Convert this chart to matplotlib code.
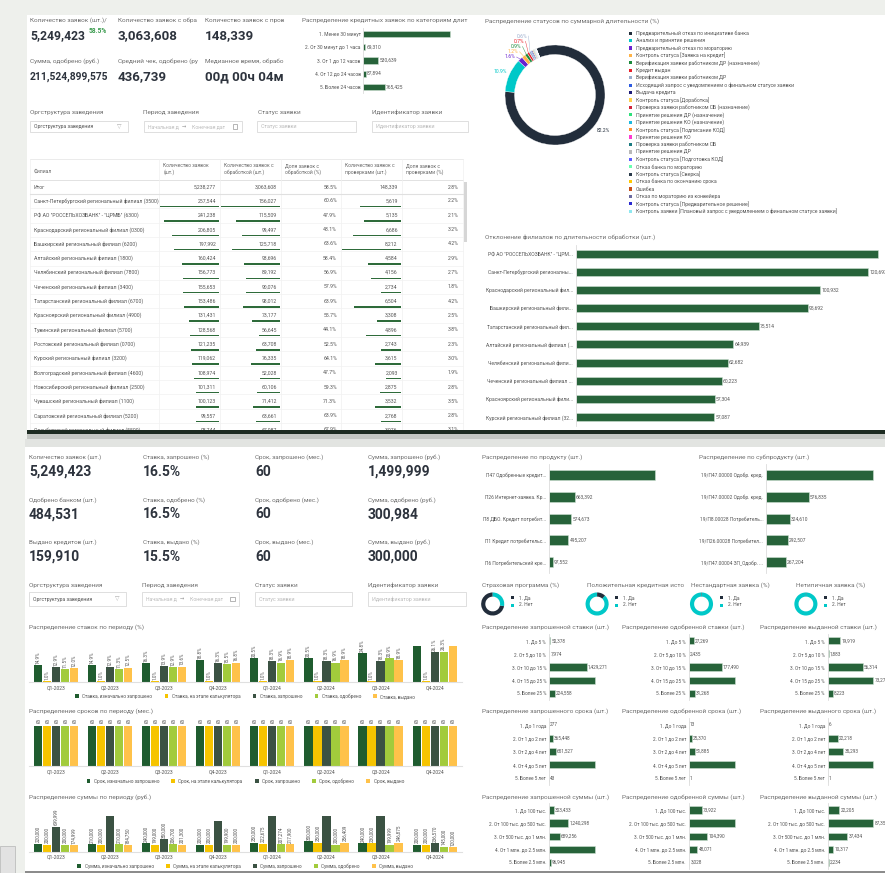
import numpy as np
import matplotlib
matplotlib.use("Agg")
from matplotlib import pyplot as plt
from matplotlib.patches import Rectangle

plt.rcParams['font.family'] = ['Roboto', 'DejaVu Sans']

# ---------------- data ----------------
top_kpi_labels = ["Количество заявок (шт.)/", "Количество заявок с обра", "Количество заявок с пров",
                  "Сумма, одобрено (руб.)", "Средний чек, одобрено (ру", "Медианное время, обрабо"]
top_kpi_values = ["5,249,423", "3,063,608", "148,339", "211,524,899,575", "436,739", "00д 00ч 04м"]
top_kpi_share = "58.5%"

dur_cats = ["1. Менее 30 минут", "2. От 30 минут до 1 часа", "3. От 1 до 12 часов",
            "4. От 12 до 24 часов", "5. Более 24 часов"]
dur_vals = [3101214, 69310, 530639, 87894, 765425]

status_names = ["Предварительный отказ по инициативе банка", "Анализ и принятие решения",
                "Предварительный отказ по мораторию", "Контроль статуса [Заявка на кредит]",
                "Верификация заявки работником ДР (назначение)", "Кредит выдан",
                "Верификация заявки работником ДР",
                "Исходящий запрос с уведомлением о финальном статусе заявки", "Выдача кредита",
                "Контроль статуса [Доработка]", "Проверка заявки работником СБ (назначение)",
                "Принятие решения ДР (назначение)", "Принятие решения КО (назначение)",
                "Контроль статуса [Подписание КОД]", "Принятие решения КО",
                "Проверка заявки работником СБ", "Принятие решения ДР",
                "Контроль статуса [Подготовка КОД]", "Отказ банка по мораторию",
                "Контроль статуса [Сверка]", "Отказ банка по окончанию срока", "Ошибка",
                "Отказ по мораторию из конвейера", "Контроль статуса [Предварительное решение]",
                "Контроль заявки [Плановый запрос с уведомлением о финальном статусе заявки]"]
status_vals = [82.2, 10.9, 1.6, 1.2, 0.9, 0.7, 0.6, 0.3, 0.3, 0.15, 0.2, 0.2, 0.15, 0.1, 0.1,
               0.08, 0.07, 0.06, 0.05, 0.04, 0.03, 0.03, 0.02, 0.02, 0.02]
status_colors = ['#222d3b', '#00c8c8', '#6a22cf', '#ffb347', '#1b8a3c', '#e8202a', '#9aaccc',
                 '#2d5be0', '#1c1c78', '#ffd24a', '#d0243c', '#2ee07a', '#1ab8e0', '#ff8c2a',
                 '#ff3ad0', '#1a7a80', '#b8b8b8', '#5a5aff', '#6affb0', '#2a3a4a', '#ffc800',
                 '#c8501a', '#6a6aa0', '#2a2ad0', '#8ee8f0']

filter_labels = ["Оргструктура заведения", "Период заведения", "Статус заявки", "Идентификатор заявки"]

tbl_header = ["Филиал", "Количество заявок\n(шт.)", "Количество заявок с\nобработкой (шт.)",
              "Доля заявок с\nобработкой (%)", "Количество заявок с\nпроверками (шт.)",
              "Доля заявок с\nпроверками (%)"]
tbl_total = ["Итог", "5,238,277", "3,063,608", "58.5%", "148,339", "2.8%"]
branches = ["Санкт-Петербургский региональный филиал (3500)", 'РФ АО "РОССЕЛЬХОЗБАНК" - "ЦРМБ" (6300)',
            "Краснодарский региональный филиал (0300)", "Башкирский региональный филиал (6200)",
            "Алтайский региональный филиал (1800)", "Челябинский региональный филиал (7800)",
            "Чеченский региональный филиал (3400)", "Татарстанский региональный филиал (6700)",
            "Красноярский региональный филиал (4900)", "Тувинский региональный филиал (5700)",
            "Ростовский региональный филиал (0700)", "Курский региональный филиал (3200)",
            "Волгоградский региональный филиал (4600)", "Новосибирский региональный филиал (2500)",
            "Чувашский региональный филиал (1100)", "Саратовский региональный филиал (5200)",
            "Оренбургский региональный филиал (5500)"]
br_total = [257544, 241238, 206805, 197992, 160424, 156773, 155653, 153486, 131431, 128568,
            121235, 119062, 108974, 101311, 100123, 99557, 98744]
br_proc = [156027, 115509, 99497, 125718, 93696, 89192, 90076, 98012, 73177, 56645,
           63708, 76335, 52028, 60106, 71412, 63661, 67087]
br_proc_pct = [60.6, 47.9, 48.1, 63.6, 58.4, 56.9, 57.9, 63.9, 55.7, 44.1, 52.5, 64.1, 47.7,
               59.3, 71.3, 63.9, 67.9]
br_check = [5619, 5135, 6686, 8212, 4584, 4156, 2734, 6504, 3308, 4896, 2743, 3615, 2093,
            2875, 3532, 2768, 3076]
br_check_pct = [2.2, 2.1, 3.2, 4.2, 2.9, 2.7, 1.8, 4.2, 2.5, 3.8, 2.3, 3.0, 1.9, 2.8, 3.5, 2.8, 3.1]

dev_names = ['РФ АО "РОССЕЛЬХОЗБАНК" - "ЦРМ...', "Санкт-Петербургский регионалны...",
             "Краснодарский региональный фил...", "Башкирский региональный фили...",
             "Татарстанский региональный фил...", "Алтайский региональный филиал (...",
             "Челябинский региональный фили...", "Чеченский региональный филиал ...",
             "Красноярский региональный фили...", "Курский региональный филиал (32..."]
dev_vals = [124612, 120693, 100932, 95692, 75514, 64939, 62682, 60223, 57304, 57087]

low_kpi_labels = [["Количество заявок (шт.)", "Одобрено банком (шт.)", "Выдано кредитов (шт.)"],
                  ["Ставка, запрошено (%)", "Ставка, одобрено (%)", "Ставка, выдано (%)"],
                  ["Срок, запрошено (мес.)", "Срок, одобрено (мес.)", "Срок, выдано (мес.)"],
                  ["Сумма, запрошено (руб.)", "Сумма, одобрено (руб.)", "Сумма, выдано (руб.)"]]
low_kpi_values = [["5,249,423", "484,531", "159,910"],
                  ["16.5%", "16.5%", "15.5%"],
                  ["60", "60", "60"],
                  ["1,499,999", "300,984", "300,000"]]

prod_names = ["П47 Одобренные кредит...", "П26 Интернет-заявка. Кр...", "П8 ДБО. Кредит потребит...",
              "П1 Кредит потребительс...", "П6 Потребительский кре..."]
prod_vals = [2712536, 663392, 574673, 495207, 97552]
sub_names = ["19/П47.00000 Одобр. кред.", "19/П47.00002 Одобр. кред.", "19/П8.00028 Потребитель...",
             "19/П26.00028 Потребител...", "19/П47.00004 ЗП_Одобр. ..."]
sub_vals = [1440120, 576835, 324610, 292507, 267204]

flag_titles = ["Страховая программа (%)", "Положительная кредитная исто",
               "Нестандартная заявка (%)", "Нетипичная заявка (%)"]
flag_yes = [72.0, 12.0, 0.6, 0.4]
flag_legend = ["1. Да", "2. Нет"]

quarters = ["Q1-2023", "Q2-2023", "Q3-2023", "Q4-2023", "Q1-2024", "Q2-2024", "Q3-2024", "Q4-2024"]
rate_init = [14.9, 14.9, 16.3, 18.8, 20.5, 20.5, 24.8, 31.5]
rate_calc = [1.0, 1.0, 1.0, 1.0, 1.0, 1.0, 1.0, 1.0]
rate_req = [12.9, 12.9, 13.9, 16.3, 18.3, 18.3, 18.3, 26.1]
rate_appr = [11.5, 11.3, 12.9, 15.5, 16.9, 16.9, 20.9, 26.3]
rate_iss = [12.0, 12.5, 13.6, 16.8, 18.9, 18.9, 18.9, 31.0]
term_init = [60, 60, 60, 60, 60, 60, 60, 60]
term_calc = [60, 60, 60, 60, 60, 60, 60, 60]
term_req = [60, 60, 60, 60, 60, 60, 60, 60]
term_appr = [60, 60, 60, 60, 60, 60, 60, 60]
term_iss = [60, 60, 60, 60, 60, 60, 60, 60]
sum_init = [220000, 210000, 240000, 200000, 250000, 300000, 240000, 200000]
sum_calc = [200000, 200000, 199000, 200000, 222675, 250000, 230000, 200000]
sum_req = [699999, 1000000, 350000, 870000, 1000000, 1000000, 1000000, 236570]
sum_appr = [200000, 210000, 206700, 199900, 207274, 200000, 199999, 145000]
sum_iss = [174999, 184750, 201300, 200000, 217900, 256409, 246875, 120000]
rate_names = ["Ставка, изначально запрошено", "Ставка, на этапе калькулятора", "Ставка, запрошено",
              "Ставка, одобрено", "Ставка, выдано"]
term_names = ["Срок, изначально запрошено", "Срок, на этапе калькулятора", "Срок, запрошено",
              "Срок, одобрено", "Срок, выдано"]
sum_names = ["Сумма, изначально запрошено", "Сумма, на этапе калькулятора", "Сумма, запрошено",
             "Сумма, одобрено", "Сумма, выдано"]

rate_bins = ["1. До 5 %", "2. От 5 до 10 %", "3. От 10 до 15 %", "4. От 15 до 25 %", "5. Более 25 %"]
term_bins = ["1. До 1 года", "2. От 1 до 2 лет", "3. От 2 до 4 лет", "4. От 4 до 5 лет", "5. Более 5 лет"]
sum_bins = ["1. До 100 тыс.", "2. От 100 тыс. до 500 тыс.", "3. От 500 тыс. до 1 млн.",
            "4. От 1 млн. до 2.5 млн.", "5. Более 2.5 млн."]
rate_req_cnt = [50378, 7974, 1429271, 1743512, 224558]
rate_appr_cnt = [27269, 2435, 177490, 245630, 31268]
rate_iss_cnt = [19919, 1883, 56314, 73271, 8223]
term_req_cnt = [277, 365448, 651527, 4232128, 43]
term_appr_cnt = [13, 25370, 51885, 407262, 1]
term_iss_cnt = [6, 22218, 35293, 102392, 1]
sum_req_cnt = [303433, 1240298, 689256, 2919491, 96945]
sum_appr_cnt = [73922, 255120, 104390, 48071, 3028]
sum_iss_cnt = [22205, 87354, 37434, 10317, 2234]

# ---------------- figure ----------------
W, H = 885, 873
GREEN = '#27633a'
TITLE = '#6e6e6e'
LBL = '#555555'
DARK = '#2d333d'
SER_COLORS = ['#1f5c2f', '#f6c400', '#3b5243', '#a2cb3c', '#ffc24a']

fig = plt.figure(figsize=(W / 100, H / 100), dpi=100)
fig.patch.set_facecolor('#eef0ec')


def fax(x0, y0, x1, y1):
    return fig.add_axes([x0 / W, 1 - y1 / H, (x1 - x0) / W, (y1 - y0) / H])


def pax(x0, y0, x1, y1):
    ax = fax(x0, y0, x1, y1)
    ax.set_xlim(x0, x1)
    ax.set_ylim(y1, y0)
    ax.axis('off')
    return ax


bg = pax(0, 0, W, H)
bg.add_patch(Rectangle((27, 15), W - 27, 415, fc='white', ec='none'))
bg.add_patch(Rectangle((27, 430), W - 27, 4, fc='#1d2b21', ec='none'))
bg.add_patch(Rectangle((27, 434), W - 27, 5, fc='#c4c7c3', ec='none'))
bg.add_patch(Rectangle((25, 439), W - 25, 8, fc='#e2e4e1', ec='none'))
bg.add_patch(Rectangle((25, 447), W - 25, H - 447, fc='white', ec='none'))
bg.add_patch(Rectangle((25, 870.5), W - 25, 2.5, fc='#8c8c8c', ec='none'))
bg.add_patch(Rectangle((0, 846), 15, 27, fc='#e2e2e2', ec='#bdbdbd', lw=0.6))


def txt(x, y, s, size=4.6, color=TITLE, **kw):
    kw.setdefault('va', 'center')
    bg.text(x, y, s, fontsize=size, color=color, **kw)


# top KPIs
for i, (lab, val) in enumerate(zip(top_kpi_labels, top_kpi_values)):
    x = [30, 118, 205][i % 3]
    yl, yv = (20.5, 35.5) if i < 3 else (61.5, 76.5)
    txt(x, yl, lab)
    size = {0: 8.7, 3: 7.4}.get(i, 9.6)
    txt(x, yv, val, size=size, color=DARK, fontweight='bold')
txt(88.5, 31, top_kpi_share, size=4.8, color='#3d9c50', fontweight='bold')


def hbar(x_axis, x_right, y_first, y_last, cats, vals, max_end, fs=3.6, show_max=False, bh=0.46):
    n = len(vals)
    step = (y_last - y_first) / (n - 1)
    ax = fax(x_axis, y_first - step / 2, x_right, y_last + step / 2)
    top = max(vals)
    ax.barh(range(n), vals, height=bh, color=GREEN, edgecolor='#cfe2d3', linewidth=0.4)
    ax.set_xlim(0, top * (x_right - x_axis) / (max_end - x_axis))
    ax.set_ylim(n - 0.5, -0.5)
    ax.set_yticks(range(n), cats, fontsize=fs, color=LBL)
    ax.tick_params(axis='y', length=0, pad=2)
    ax.set_xticks([])
    for s in ('top', 'right', 'bottom'):
        ax.spines[s].set_visible(False)
    ax.spines['left'].set_color('#dcdcdc')
    ax.spines['left'].set_linewidth(0.6)
    ax.patch.set_alpha(0)
    for i, v in enumerate(vals):
        if v == top and not show_max:
            continue
        ax.annotate(f'{v:,}', (v, i), xytext=(0.8, 0), textcoords='offset points',
                    fontsize=fs, color=LBL, va='center', annotation_clip=False)
    return ax


# duration categories
txt(301.7, 20.7, "Распределение кредитных заявок по категориям длит")
hbar(363.3, 470, 34.3, 86.7, dur_cats, dur_vals, 450, fs=3.5)

# status donut
txt(485, 21.5, "Распределение статусов по суммарной длительности (%)")
pa = fax(495, 35, 615, 155)
wedges, _ = pa.pie(status_vals, colors=status_colors, startangle=112, counterclock=False,
                   radius=1, wedgeprops=dict(width=0.19, edgecolor='white', linewidth=0.25))
pa.set_xlim(-1.2, 1.2)
pa.set_ylim(-1.2, 1.2)
pa.set_aspect('equal')
for k, (w, v, c) in enumerate(zip(wedges[:7], status_vals[:7], status_colors[:7])):
    ang = np.deg2rad((w.theta1 + w.theta2) / 2)
    if k < 2:
        pa.text(1.2 * np.cos(ang), 1.2 * np.sin(ang), f'{v}%', fontsize=3.6, color=c,
                ha='center', va='center')
    else:
        ly = 0.76 + 0.105 * (k - 2)
        lx = -0.8 + 0.06 * (k - 2)
        pa.plot([np.cos(ang), lx + 0.03], [np.sin(ang), ly], color=c, lw=0.3, clip_on=False)
        pa.text(lx, ly, f'{v}%', fontsize=3.6, color=c, ha='right', va='center')

lg = pax(625, 27, 885, 217)
for i, (nm, c) in enumerate(zip(status_names, status_colors)):
    y = 33.2 + i * 7.42
    lg.add_patch(Rectangle((628.6, y - 1.6), 3.2, 3.2, fc=c, ec='none', clip_on=True))
    lg.text(636, y, nm, fontsize=3.7, color=LBL, va='center', clip_on=True)


# filters
def filters(y_lab, y0, y1, xs, boxes):
    for x, lab in zip(xs, filter_labels):
        txt(x, y_lab, lab, size=4.6)
    for k, (bx0, bx1) in enumerate(boxes):
        bg.add_patch(Rectangle((bx0, y0), bx1 - bx0, y1 - y0, fc='white', ec='#d9d9d9', lw=0.6))
        yc = (y0 + y1) / 2
        if k == 0:
            txt(bx0 + 4, yc, filter_labels[0], size=3.7, color=LBL)
            txt(bx1 - 8, yc, "▽", size=4.2, color='#aaaaaa', ha='center')
        elif k == 1:
            txt(bx0 + 4, yc, "Начальная д", size=3.7, color='#bbbbbb')
            txt(bx0 + 38, yc, "→", size=3.7, color='#999999')
            txt(bx0 + 48, yc, "Конечная дат", size=3.7, color='#bbbbbb')
            bg.add_patch(Rectangle((bx1 - 9, yc - 2.2), 4.4, 4.4, fc='none', ec='#999999', lw=0.5))
        else:
            txt(bx0 + 4, yc, filter_labels[k], size=3.9, color='#bbbbbb')


filters(112.7, 120.7, 132.3, [30, 143.3, 257.7, 371.7],
        [(30, 127.7), (144, 241.7), (257.3, 355.7), (371.7, 468.3)])

# table
tb = pax(28, 158, 470, 429.5)
cols = [30, 159.3, 220, 281, 341, 401.7, 462.7]
tb.plot([cols[0], cols[-1]], [159.3, 159.3], color='#e8e8e8', lw=0.6)
tb.plot([cols[0], cols[-1]], [180, 180], color='#e2e2e2', lw=0.7)
for c in cols:
    tb.plot([c, c], [159.3, 430], color='#f0f0f0', lw=0.5)
for j, h in enumerate(tbl_header):
    if j == 0:
        tb.text(cols[0] + 4, 171.5, h, fontsize=3.6, color='#666666', va='center')
    else:
        tb.text(cols[j] + 4, 163, h, fontsize=3.6, color='#666666', va='top', linespacing=1.35)
for j, s in enumerate(tbl_total):
    if j == 0:
        tb.text(cols[0] + 4, 187.3, s, fontsize=3.7, color=LBL, va='center')
    else:
        tb.text(cols[j + 1] - 4, 187.3, s, fontsize=3.7, color=LBL, va='center', ha='right')
tb.plot([cols[0], cols[-1]], [194, 194], color='#e0e0e0', lw=0.8)
bar_cols = {1: br_total, 2: br_proc, 4: br_check}
ROW = 14.31
for i, name in enumerate(branches):
    top = 194 + i * ROW
    yc = top + 7
    row = [f'{br_total[i]:,}', f'{br_proc[i]:,}', f'{br_proc_pct[i]:.1f}%',
           f'{br_check[i]:,}', f'{br_check_pct[i]:.1f}%']
    tb.text(cols[0] + 4, yc, name, fontsize=3.7, color=LBL, va='center', clip_on=True)
    for j, s in enumerate(row):
        tb.text(cols[j + 2] - 4, yc, s, fontsize=3.7, color=LBL, va='center', ha='right',
                clip_on=True)
    for j, series in bar_cols.items():
        length = series[i] / max(series) * (cols[j + 1] - cols[j] - 1.5)
        tb.add_patch(Rectangle((cols[j + 1] - 0.8 - length, top + 12), length, 1.4,
                               fc='#2e6b3a', ec='none', clip_on=True))
    tb.plot([cols[0], cols[-1]], [top + ROW, top + ROW], color='#f2f2f2', lw=0.5)
tb.add_patch(Rectangle((464.3, 182), 2.3, 60, fc='#d6d6d6', ec='none'))

# branch deviations
txt(485, 236.7, "Отклонение филиалов по длительности обработки (шт.)")
hbar(576, 885, 253.7, 417, dev_names, dev_vals, 877.7, fs=3.6, bh=0.44)

# lower KPIs
for c, x in enumerate([29, 142.7, 255, 367.7]):
    for r, (yl, yv) in enumerate([(457, 472), (500, 514.5), (541.7, 557)]):
        txt(x, yl, low_kpi_labels[c][r], size=4.5)
        txt(x, yv, low_kpi_values[c][r], size=10, color=DARK, fontweight='bold')

filters(585, 592.3, 605.7, [29, 142, 255, 368],
        [(29, 125.7), (141.7, 239.3), (255, 352.3), (368.3, 465.7)])

# products
txt(481.7, 456.7, "Распределение по продукту (шт.)")
hbar(549, 690, 475, 562.3, prod_names, prod_vals, 655, fs=3.5)
txt(699.3, 456.7, "Распределение по субпродукту (шт.)")
hbar(766, 885, 475, 562.3, sub_names, sub_vals, 872.7, fs=3.5)

# flag donuts: larger share drawn first, counter-clockwise from the top
for i, (t, yes) in enumerate(zip(flag_titles, flag_yes)):
    cx = 492.7 + i * 104.4
    txt(482 + i * 104.6, 585, t, size=4.6)
    da = fax(cx - 15, 604 - 15, cx + 15, 604 + 15)
    parts = sorted(zip([yes, 100 - yes], ['#222d3b', '#00c8c8']), reverse=True)
    da.pie([p[0] for p in parts], colors=[p[1] for p in parts], startangle=90,
           counterclock=True, radius=1, wedgeprops=dict(width=0.36))
    da.set_xlim(-1.3, 1.3)
    da.set_ylim(-1.3, 1.3)
    da.set_aspect('equal')
    for k, (lab, c) in enumerate(zip(flag_legend, ['#222d3b', '#00c8c8'])):
        yy = 597.3 + k * 7.7
        bg.add_patch(Rectangle((cx + 18, yy - 1.5), 3, 3, fc=c, ec='none'))
        txt(cx + 26, yy, lab, size=3.5, color=LBL)


# vertical grouped bars
def vbars(title, title_y, ytop, ybase, series, names, ymax, fmt, rot, hide_above, leg_y):
    x0, x1 = 28.7, 461.8
    txt(28.7, title_y, title)
    ax = fax(x0, ytop, x1, ybase)
    x = np.arange(len(quarters))
    k = len(series)
    pitch, width = 9 / 54.1, 8.3 / 54.1
    for j, vals in enumerate(series):
        b = ax.bar(x + (j - (k - 1) / 2) * pitch, vals, width, color=SER_COLORS[j], label=names[j])
        labs = [fmt(v) if v <= hide_above else '' for v in vals]
        ax.bar_label(b, labels=labs, rotation=rot, fontsize=3.3, color=LBL, padding=1)
    ax.set_xlim(-0.5, len(quarters) - 0.5)
    ax.set_ylim(0, ymax)
    ax.set_xticks(x, quarters, fontsize=3.6, color=LBL)
    ax.tick_params(axis='x', length=0, pad=2.2)
    ax.set_yticks([])
    for s in ('top', 'right', 'left'):
        ax.spines[s].set_visible(False)
    ax.spines['bottom'].set_color('#e0e0e0')
    ax.spines['bottom'].set_linewidth(0.8)
    ax.patch.set_alpha(0)
    ax.legend(loc='center', bbox_to_anchor=((x0 + x1) / 2 / W, 1 - leg_y / H),
              bbox_transform=fig.transFigure, ncol=k, frameon=False, fontsize=3.4,
              handlelength=0.8, handleheight=0.8, handletextpad=0.7, columnspacing=2.6,
              labelcolor=LBL, borderpad=0)


vbars("Распределение ставок по периоду (%)", 627, 637, 682.3,
      [rate_init, rate_calc, rate_req, rate_appr, rate_iss], rate_names,
      39.0, lambda v: f'{v:.1f}%', 90, 30, 696)
vbars("Распределение сроков по периоду (мес.)", 710.7, 716, 766,
      [term_init, term_calc, term_req, term_appr, term_iss], term_names,
      75, lambda v: f'{v}', 0, 1000, 781)
vbars("Распределение суммы по периоду (руб.)", 796.7, 804, 851.7,
      [sum_init, sum_calc, sum_req, sum_appr, sum_iss], sum_names,
      1336000, lambda v: f'{v:,}', 90, 800000, 866)

# small distributions
small = [
    ("Распределение запрошенной ставки (шт.)", rate_bins, rate_req_cnt),
    ("Распределение одобренной ставки (шт.)", rate_bins, rate_appr_cnt),
    ("Распределение выданной ставки (шт.)", rate_bins, rate_iss_cnt),
    ("Распределение запрошенного срока (шт.)", term_bins, term_req_cnt),
    ("Распределение одобренной срока (шт.)", term_bins, term_appr_cnt),
    ("Распределение выданного срока (шт.)", term_bins, term_iss_cnt),
    ("Распределение запрошенной суммы (шт.)", sum_bins, sum_req_cnt),
    ("Распределение одобренной суммы (шт.)", sum_bins, sum_appr_cnt),
    ("Распределение выданной суммы (шт.)", sum_bins, sum_iss_cnt),
]
col_axis = [549, 688.7, 827.7]
col_title = [482, 621.7, 760]
col_right = [615, 755, 895]
row_y = [(627, 640.7, 693.3), (710.7, 725, 778), (796.7, 810, 862.3)]
for idx, (t, cats, vals) in enumerate(small):
    r, c = divmod(idx, 3)
    ty, y0, y1 = row_y[r]
    txt(col_title[c], ty, t, size=4.6)
    hbar(col_axis[c], col_right[c], y0, y1, cats, vals, col_axis[c] + 45.8, fs=3.4,
         show_max=(c == 2 and r != 1), bh=0.55)

fig.savefig('out.png', dpi=100, facecolor=fig.get_facecolor())
